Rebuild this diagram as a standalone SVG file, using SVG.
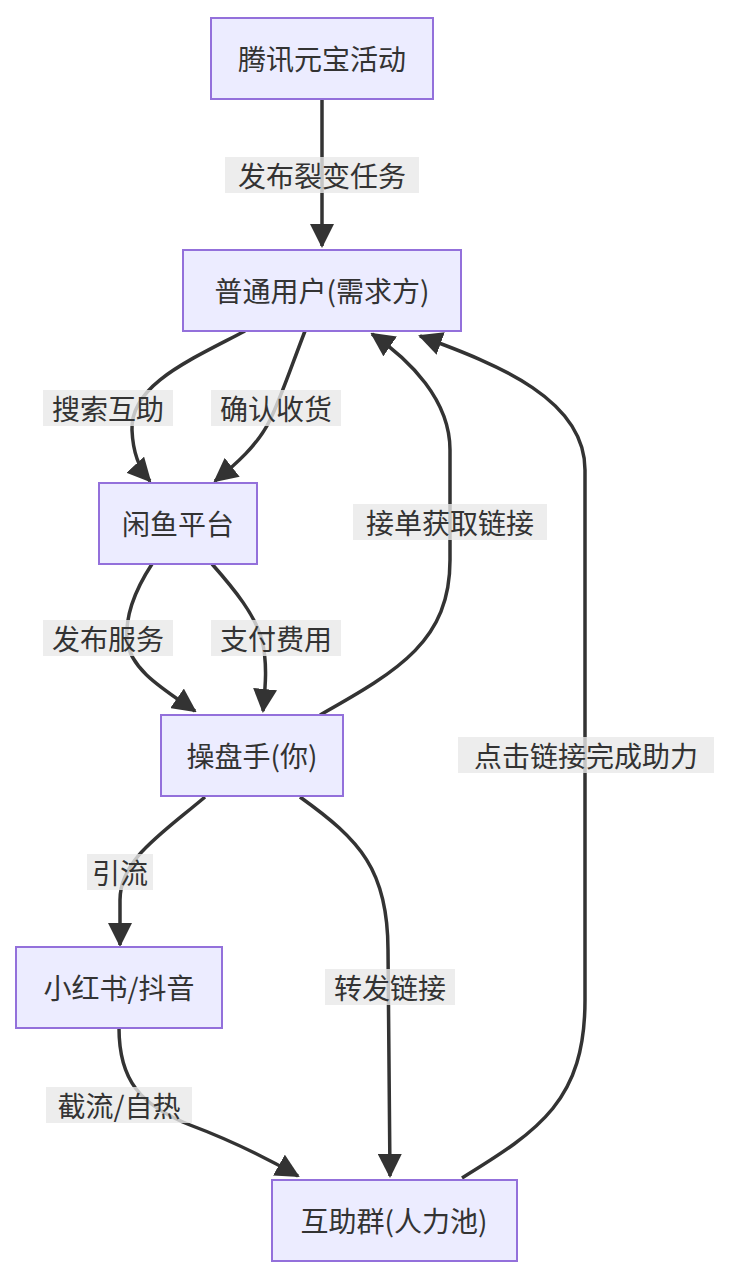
<svg xmlns="http://www.w3.org/2000/svg" width="732" height="1278" viewBox="0 0 732 1278">
<style>
.n rect{fill:#ececff;stroke:#9370db;stroke-width:2}
text{font-family:"Noto Sans CJK SC","Liberation Sans",sans-serif;font-size:28px;fill:#333;text-anchor:middle;dominant-baseline:central}
.e path{fill:none;stroke:#333;stroke-width:3.5}
.lb{fill:rgba(232,232,232,0.8)}
</style>
<defs><marker id="a" viewBox="0 0 10 10" refX="9" refY="5" markerWidth="7" markerHeight="7" markerUnits="userSpaceOnUse" orient="auto" style="overflow:visible"><path d="M0,0L10,5L0,10z" fill="#333" transform="scale(2.6) translate(-6,-3)"/></marker></defs>
<defs><marker id="m" viewBox="0 0 12 12" refX="11" refY="6" markerWidth="24" markerHeight="24" markerUnits="userSpaceOnUse" orient="auto"><path d="M0,0L12,6L0,12z" fill="#333"/></marker></defs>
<g class="e">
<path d="M322,99L322,246" marker-end="url(#m)"/>
<path d="M245,331C190,360 130,385 132,430C133,455 140,470 150,481" marker-end="url(#m)"/>
<path d="M305,331C290,370 280,400 270,420C258,445 235,465 215,481" marker-end="url(#m)"/>
<path d="M152,564C135,590 125,615 127,640C130,670 165,690 195,711" marker-end="url(#m)"/>
<path d="M212,564C235,590 255,615 262,640C268,665 265,690 263,711" marker-end="url(#m)"/>
<path d="M320,715C400,670 450,640 450,560L450,450C450,400 410,360 372,334" marker-end="url(#m)"/>
<path d="M462,1178C540,1130 585,1100 585,1000L585,470C585,400 500,365 420,336" marker-end="url(#m)"/>
<path d="M205,797C160,835 120,860 120,900L120,945" marker-end="url(#m)"/>
<path d="M300,797C360,840 388,870 388,950L390,1176" marker-end="url(#m)"/>
<path d="M119,1028C119,1080 140,1105 190,1125C230,1140 270,1160 298,1176" marker-end="url(#m)"/>
</g>
<g id="labels">
<rect class="lb" x="225" y="157" width="194" height="36"/><text x="322" y="175">发布裂变任务</text>
<rect class="lb" x="43" y="390" width="130" height="36"/><text x="108" y="408">搜索互助</text>
<rect class="lb" x="211" y="390" width="130" height="36"/><text x="276" y="408">确认收货</text>
<rect class="lb" x="43" y="620" width="130" height="36"/><text x="108" y="638">发布服务</text>
<rect class="lb" x="211" y="620" width="130" height="36"/><text x="276" y="638">支付费用</text>
<rect class="lb" x="353" y="504" width="194" height="36"/><text x="450" y="522">接单获取链接</text>
<rect class="lb" x="458" y="737" width="256" height="36"/><text x="586" y="755">点击链接完成助力</text>
<rect class="lb" x="87" y="854" width="66" height="36"/><text x="120" y="872">引流</text>
<rect class="lb" x="325" y="969" width="130" height="36"/><text x="390" y="987">转发链接</text>
<rect class="lb" x="46" y="1087" width="146" height="36"/><text x="119" y="1105">截流/自热</text>
</g>
<g id="n1" class="n"><rect x="211" y="18" width="222" height="81"/><text x="322" y="58">腾讯元宝活动</text></g>
<g id="n2" class="n"><rect x="183" y="250" width="278" height="81"/><text x="322" y="290">普通用户(需求方)</text></g>
<g id="n3" class="n"><rect x="99" y="483" width="158" height="81"/><text x="178" y="523">闲鱼平台</text></g>
<g id="n4" class="n"><rect x="161" y="715" width="182" height="81"/><text x="252" y="755">操盘手(你)</text></g>
<g id="n5" class="n"><rect x="16" y="947" width="206" height="81"/><text x="119" y="987">小红书/抖音</text></g>
<g id="n6" class="n"><rect x="272" y="1180" width="245" height="81"/><text x="394" y="1220">互助群(人力池)</text></g>
</svg>
